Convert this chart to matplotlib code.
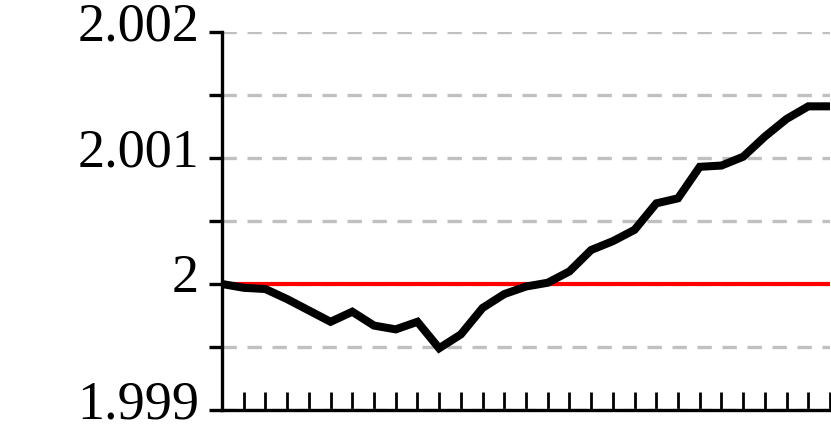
import matplotlib
matplotlib.use("Agg")
import matplotlib.pyplot as plt
import matplotlib.transforms as mtransforms
import numpy as np

# series
values = [2.00000, 1.99997, 1.99996, 1.99988, 1.99979, 1.99970, 1.99978,
          1.99967, 1.99964, 1.99970, 1.99949, 1.99960, 1.99981, 1.99992,
          1.99998, 2.00001, 2.00010, 2.00027, 2.00034, 2.00043, 2.00064,
          2.00068, 2.00093, 2.00094, 2.00101, 2.00117, 2.00131, 2.00141,
          2.00141]
target = 2.0
yticks = [1.999, 2.0, 2.001, 2.002]
ytick_labels = ["1.999", "2", "2.001", "2.002"]
yminor = [1.9995, 2.0005, 2.0015]

plt.rcParams['font.family'] = ['Liberation Serif', 'DejaVu Serif']

fig = plt.figure(figsize=(8.31, 4.42), dpi=100)
ax = fig.add_axes([222/831, 32/442, 608/831, 378/442])

x = np.arange(len(values))
ax.set_xlim(0, len(values) - 1)
ax.set_ylim(1.999, 2.002)

ax.set_yticks(yticks)
ax.set_yticklabels(ytick_labels)
ax.set_yticks(yminor, minor=True)
ax.set_xticks(x)
ax.set_xticklabels([])

ax.grid(True, axis='y', which='both', color='#c0c0c0', linewidth=2.4,
        linestyle=(0, (4.3, 3.2)), zorder=1)
ax.axhline(target, color='#ff0000', linewidth=3, zorder=2)
ax.plot(x, values, color='black', linewidth=5.8, solid_joinstyle='miter',
        solid_capstyle='butt', zorder=3)

for s in ['top', 'right']:
    ax.spines[s].set_visible(False)
for s in ['left', 'bottom']:
    ax.spines[s].set_linewidth(2.4)

ax.tick_params(axis='y', which='both', direction='out', length=9.5, width=2.4,
               pad=7, labelsize=39)
ax.tick_params(axis='x', which='both', direction='in', length=13, width=2.0)

# labels sit a little above their ticks in the reference
shift = mtransforms.ScaledTranslation(0, 5/100, fig.dpi_scale_trans)
for lab in ax.get_yticklabels():
    lab.set_va('center')
    lab.set_transform(lab.get_transform() + shift)

fig.savefig("out.png", dpi=100)
